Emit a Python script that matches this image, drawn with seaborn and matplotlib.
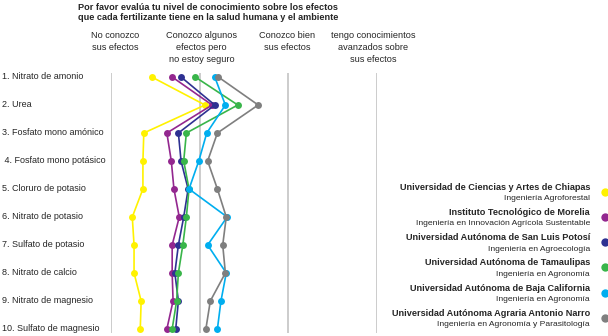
import matplotlib
matplotlib.use("Agg")
import matplotlib.pyplot as plt
import matplotlib.transforms as mtransforms
import seaborn as sns
import pandas as pd

sns.set_style("white")
plt.rcParams['font.family'] = ['Liberation Sans', 'DejaVu Sans']

fertilizers = ["1. Nitrato de amonio", "2. Urea", "3. Fosfato mono amónico",
               " 4. Fosfato mono potásico", "5. Cloruro de potasio",
               "6. Nitrato de potasio", "7. Sulfato de potasio",
               "8. Nitrato de calcio", "9. Nitrato de magnesio",
               "10. Sulfato de magnesio"]

levels = ["No conozco\nsus efectos", "Conozco algunos\nefectos pero\nno estoy seguro",
          "Conozco bien\nsus efectos", "tengo conocimientos\navanzados sobre\nsus efectos"]

universities = ["Universidad de Ciencias y Artes de Chiapas",
                "Instituto Tecnológico de Morelia",
                "Universidad Autónoma de San Luis Potosí",
                "Universidad Autónoma de Tamaulipas",
                "Universidad Autónoma de Baja California",
                "Universidad Autónoma Agraria Antonio Narro"]
programs = ["Ingeniería Agroforestal",
            "Ingeniería en Innovación Agrícola Sustentable",
            "Ingeniería en Agroecología",
            "Ingeniería en Agronomía",
            "Ingeniería en Agronomía",
            "Ingeniería en Agronomía y Parasitología"]
colors = ["#FFF200", "#93278F", "#2E3192", "#39B54A", "#00AEEF", "#7F7F7F"]

chiapas    = [1.46, 2.06, 1.37, 1.36, 1.36, 1.24, 1.26, 1.26, 1.34, 1.33]
morelia    = [1.69, 2.14, 1.63, 1.68, 1.71, 1.77, 1.69, 1.69, 1.70, 1.63]
sanluis    = [1.79, 2.17, 1.76, 1.79, 1.87, 1.82, 1.76, 1.72, 1.76, 1.73]
tamaulipas = [1.95, 2.43, 1.85, 1.82, 1.88, 1.85, 1.81, 1.76, 1.74, 1.69]
baja       = [2.17, 2.29, 2.08, 1.99, 1.88, 2.31, 2.09, 2.30, 2.24, 2.20]
narro      = [2.21, 2.66, 2.20, 2.09, 2.20, 2.30, 2.26, 2.29, 2.12, 2.07]
series = [chiapas, morelia, sanluis, tamaulipas, baja, narro]

W, H = 608, 336
fig = plt.figure(figsize=(W / 100, H / 100), dpi=100)

def fx(px):
    return px / W

def fy(py):
    return 1 - py / H

# axes: x 111..377 px (values 1..4), y 73..333 px
ax = fig.add_axes([fx(111), fy(333), fx(377) - fx(111), (333 - 73) / H])
ax.set_xlim(1, 4)
ax.set_ylim(10 + 4 / 28, 1 - 4 / 28)
for v in [1, 2, 3, 4]:
    ax.axvline(v, color="#C8C8C8", lw=1.3, zorder=0)

rows = list(range(1, 11))
for vals, c, u in zip(series, colors, universities):
    df = pd.DataFrame({"valor": vals, "fila": rows})
    sns.lineplot(data=df, x="valor", y="fila", orient="y", errorbar=None,
                 ax=ax, color=c, marker="o", markersize=5, markeredgewidth=0,
                 lw=1.2, clip_on=False, legend=False)

for s in ax.spines.values():
    s.set_visible(False)
ax.set_xticks([])
ax.set_yticks([])
ax.set_xlabel("")
ax.set_ylabel("")

# row labels
trans = mtransforms.blended_transform_factory(fig.transFigure, ax.transData)
for i, lab in enumerate(fertilizers):
    ax.text(fx(2), i + 1, lab, transform=trans, fontsize=6.45,
            ha="left", va="center")

# title
fig.text(fx(78), fy(3), "Por favor evalúa tu nivel de conocimiento sobre los efectos\n"
         "que cada fertilizante tiene en la salud humana y el ambiente",
         fontsize=6.6, fontweight="bold", ha="left", va="top", linespacing=1.15)

# headers, centred over the scale positions
htrans = mtransforms.blended_transform_factory(ax.transData, fig.transFigure)
hx = [1.05, 2.02, 2.99, 3.96]
for x, lab in zip(hx, levels):
    ax.text(x, fy(31), lab, transform=htrans, fontsize=6.6, ha="center",
            va="top", linespacing=1.45)

# legend
for i, (u, p, c) in enumerate(zip(universities, programs, colors)):
    yb = 187 + 25.3 * i
    fig.text(fx(590), fy(yb), u, fontsize=6.6, fontweight="bold", ha="right", va="center")
    fig.text(fx(590), fy(yb + 11.5), p, fontsize=6.1, ha="right", va="center")
    fig.add_artist(matplotlib.lines.Line2D([fx(605)], [fy(yb + 4.5)], marker="o",
                   markersize=6, color=c, markeredgewidth=0, transform=fig.transFigure))

fig.savefig("out.png", dpi=100)
